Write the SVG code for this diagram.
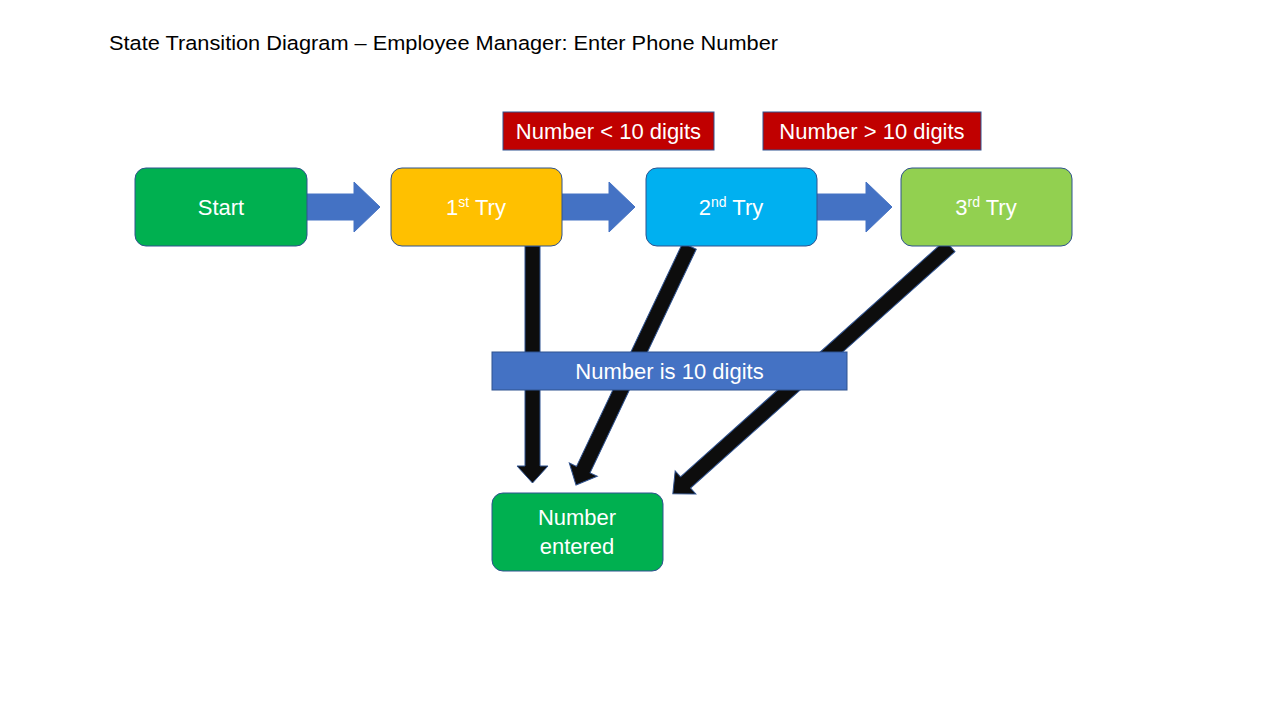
<svg xmlns="http://www.w3.org/2000/svg" width="1280" height="720" viewBox="0 0 1280 720">
<style>
.node{stroke:#2f528f;stroke-width:1}
.t{font-family:"Liberation Sans",Arial,sans-serif;font-size:22px;fill:#ffffff;text-anchor:middle}
.blk{fill:#0d0d0d;stroke:#2f528f;stroke-width:1}
.bl{fill:#4472c4;stroke:#4472c4;stroke-width:1}
.lbl{stroke:#2f528f;stroke-width:1}
</style>
<rect width="1280" height="720" fill="#ffffff"/>
<text x="109" y="50" font-family="'Liberation Sans',Arial,sans-serif" font-size="20.5" fill="#000000" textLength="669" lengthAdjust="spacingAndGlyphs">State Transition Diagram – Employee Manager: Enter Phone Number</text>
<g id="connectors">
<polygon class="bl" points="307,194 354,194 354,182 380,207 354,232 354,220 307,220"/>
<polygon class="bl" points="562,194 609,194 609,182 635,207 609,232 609,220 562,220"/>
<polygon class="bl" points="817,194 866,194 866,182 892,207 866,232 866,220 817,220"/>
<polygon class="blk" transform="translate(532.5,246) rotate(90)" points="0,-7.5 220,-7.5 220,-15.5 237,0 220,15.5 220,7.5 0,7.5"/>
<polygon class="blk" transform="translate(689.5,246) rotate(115.4)" points="0,-7.5 247.6,-7.5 247.6,-15.5 264.6,0 247.6,15.5 247.6,7.5 0,7.5"/>
<polygon class="blk" transform="translate(950,246) rotate(138.2)" points="0,-7.5 354.8,-7.5 354.8,-15.5 371.8,0 354.8,15.5 354.8,7.5 0,7.5"/>
</g>
<g id="start">
<rect class="node" x="135" y="168" width="172" height="78" rx="11" fill="#00b050"/>
<text class="t" x="221" y="215">Start</text>
</g>
<g id="try1">
<rect class="node" x="391" y="168" width="171" height="78" rx="11" fill="#ffc000"/>
<text class="t" x="476" y="215">1<tspan font-size="14" dy="-8">st</tspan><tspan dy="8"> Try</tspan></text>
</g>
<g id="try2">
<rect class="node" x="646" y="168" width="171" height="78" rx="11" fill="#00b0f0"/>
<text class="t" x="731" y="215">2<tspan font-size="14" dy="-8">nd</tspan><tspan dy="8"> Try</tspan></text>
</g>
<g id="try3">
<rect class="node" x="901" y="168" width="171" height="78" rx="11" fill="#92d050"/>
<text class="t" x="986" y="215">3<tspan font-size="14" dy="-8">rd</tspan><tspan dy="8"> Try</tspan></text>
</g>
<g id="entered">
<rect class="node" x="492" y="493" width="171" height="78" rx="11" fill="#00b050"/>
<text class="t" x="577" y="525">Number</text>
<text class="t" x="577" y="554">entered</text>
</g>
<g id="label-less">
<rect class="lbl" x="503" y="112" width="211" height="38" fill="#c00000"/>
<text class="t" x="608.5" y="139">Number &lt; 10 digits</text>
</g>
<g id="label-more">
<rect class="lbl" x="763" y="112" width="218" height="38" fill="#c00000"/>
<text class="t" x="872" y="139">Number &gt; 10 digits</text>
</g>
<g id="label-ten">
<rect class="lbl" x="492" y="352" width="355" height="38" fill="#4472c4"/>
<text class="t" x="669.5" y="379">Number is 10 digits</text>
</g>
</svg>
